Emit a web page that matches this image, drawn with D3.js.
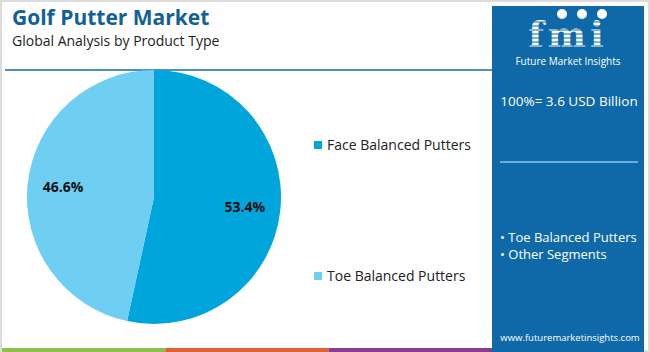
<!DOCTYPE html>
<html>
<head>
<meta charset="utf-8">
<script src="https://cdn.jsdelivr.net/npm/d3@7"></script>
<style>
  body { margin: 0; background: #fff; }
  svg { display: block; font-family: 'Open Sans', sans-serif; }
</style>
</head>
<body>
<svg id="chart"></svg>
<script>
// chart data
var segments = ['Face Balanced Putters', 'Toe Balanced Putters'];
var shares = [53.4, 46.6];
var sliceColors = ['#00a5dc', '#6fcff3'];
var panelBullets = ['Toe Balanced Putters', 'Other Segments'];
var totalLabel = '100%= 3.6 USD Billion';
var stripColors = ['#8dc04d', '#e0603a', '#8a3d8c'];

var width = 650, height = 352;

var svg = d3.select('#chart')
    .attr('width', width)
    .attr('height', height);

//outer frame
svg.append('rect')
    .attr('x', 1).attr('y', 1)
    .attr('width', width - 2).attr('height', height - 2)
    .attr('fill', '#fff')
    .attr('stroke', '#dcdcdc')
    .attr('stroke-width', 2);

//title block
svg.append('text')
    .text('Golf Putter Market')
    .attr('x', 12).attr('y', 25)
    .attr('font-size', '21px')
    .attr('font-weight', 'bold')
    .attr('fill', '#135f98');
svg.append('text')
    .text('Global Analysis by Product Type')
    .attr('x', 12).attr('y', 46)
    .attr('font-size', '14px')
    .attr('fill', '#222');

svg.append('line')
    .attr('x1', 5).attr('x2', 492)
    .attr('y1', 70).attr('y2', 70)
    .attr('stroke', '#4f8fc4')
    .attr('stroke-width', 2);

//bottom colour strip
var stripX = d3.scaleBand()
    .domain(d3.range(stripColors.length))
    .range([2, 492]);
svg.append('g')
    .selectAll('rect')
    .data(stripColors)
    .join('rect')
    .attr('x', function(d, i) { return stripX(i); })
    .attr('y', 348)
    .attr('width', stripX.bandwidth())
    .attr('height', 4)
    .attr('fill', function(d) { return d; });

//pie
var cx = 154, cy = 197, radius = 127;
var pie = d3.pie().sort(null).value(function(d) { return d; });
var arcs = pie(shares);
var arc = d3.arc().innerRadius(0).outerRadius(radius);
var labelArc = d3.arc().innerRadius(radius * 0.72).outerRadius(radius * 0.72);

var pieG = svg.append('g')
    .attr('transform', 'translate(' + cx + ',' + cy + ')');
pieG.selectAll('path')
    .data(arcs)
    .join('path')
    .attr('d', arc)
    .attr('fill', function(d, i) { return sliceColors[i]; });
pieG.selectAll('text')
    .data(arcs)
    .join('text')
    .text(function(d) { return d.data.toFixed(1) + '%'; })
    .attr('transform', function(d) {
        var c = labelArc.centroid(d);
        return 'translate(' + c[0] + ',' + c[1] + ')';
    })
    .attr('text-anchor', 'middle')
    .attr('dy', '0.35em')
    .attr('font-size', '14px')
    .attr('font-weight', 'bold')
    .attr('fill', '#111');

//legend
var legendY = d3.scalePoint()
    .domain(segments)
    .range([145, 276]);
var legend = svg.append('g');
legend.selectAll('rect')
    .data(segments)
    .join('rect')
    .attr('x', 314)
    .attr('y', function(d) { return legendY(d) - 4; })
    .attr('width', 8).attr('height', 8)
    .attr('fill', function(d, i) { return sliceColors[i]; });
legend.selectAll('text')
    .data(segments)
    .join('text')
    .text(function(d) { return d; })
    .attr('x', 327)
    .attr('y', function(d) { return legendY(d); })
    .attr('dy', '0.35em')
    .attr('font-size', '14px')
    .attr('fill', '#222');

//right info panel
var panel = svg.append('g');
panel.append('rect')
    .attr('x', 492).attr('y', 6)
    .attr('width', 152).attr('height', 346)
    .attr('fill', '#0f69a8');

//logo approximation
panel.append('text')
    .text('fmi')
    .attr('x', 568).attr('y', 47)
    .attr('text-anchor', 'middle')
    .attr('font-family', 'DejaVu Serif, serif')
    .attr('font-size', '36px')
    .attr('font-weight', 'bold')
    .attr('letter-spacing', '4px')
    .attr('fill', '#fff');
panel.append('g')
    .selectAll('line')
    .data(d3.range(7))
    .join('line')
    .attr('x1', 515).attr('x2', 622)
    .attr('y1', function(d) { return 22 + d * 4; })
    .attr('y2', function(d) { return 22 + d * 4; })
    .attr('stroke', '#0f69a8')
    .attr('stroke-width', 1);
panel.append('g')
    .selectAll('circle')
    .data([0, 1, 2])
    .join('circle')
    .attr('cx', function(d) { return 562 + d * 20; })
    .attr('cy', 14)
    .attr('r', 5)
    .attr('fill', '#fff');
panel.append('text')
    .text('Future Market Insights')
    .attr('x', 568).attr('y', 65)
    .attr('text-anchor', 'middle')
    .attr('font-size', '10px')
    .attr('fill', '#fff');

panel.append('text')
    .text(totalLabel)
    .attr('x', 569).attr('y', 106)
    .attr('text-anchor', 'middle')
    .attr('font-size', '13.5px')
    .attr('fill', '#fff');

panel.append('line')
    .attr('x1', 500).attr('x2', 638)
    .attr('y1', 162).attr('y2', 162)
    .attr('stroke', '#8cc3ea')
    .attr('stroke-width', 1.5);

panel.selectAll('.bullet')
    .data(panelBullets)
    .join('text')
    .attr('class', 'bullet')
    .text(function(d) { return '\u2022 ' + d; })
    .attr('x', 500)
    .attr('y', function(d, i) { return 242 + i * 17; })
    .attr('font-size', '13px')
    .attr('fill', '#fff');

panel.append('text')
    .text('www.futuremarketinsights.com')
    .attr('x', 570).attr('y', 341)
    .attr('text-anchor', 'middle')
    .attr('font-size', '9.5px')
    .attr('fill', '#fff');
</script>
</body>
</html>
